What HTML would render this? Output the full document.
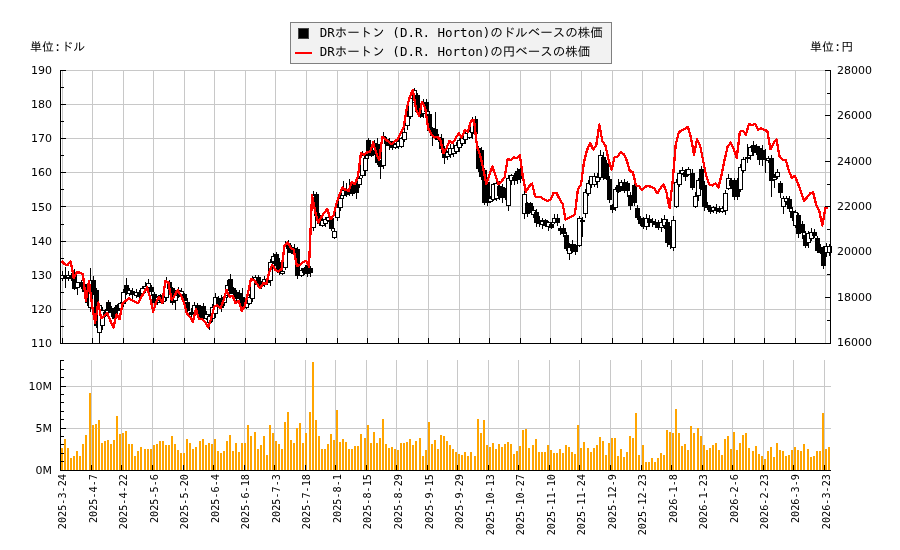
<!DOCTYPE html>
<html><head><meta charset="utf-8"><style>html,body{margin:0;padding:0;background:#fff;}svg{display:block;will-change:transform;}</style></head>
<body><svg width="900" height="550" viewBox="0 0 900 550">
<rect x="0" y="0" width="900" height="550" fill="#ffffff"/>
<path d="M62.5 70V343 M92.5 70V343 M123.5 70V343 M153.5 70V343 M184.5 70V343 M214.5 70V343 M245.5 70V343 M275.5 70V343 M306.5 70V343 M337.5 70V343 M367.5 70V343 M398.5 70V343 M428.5 70V343 M459.5 70V343 M489.5 70V343 M520.5 70V343 M550.5 70V343 M581.5 70V343 M612.5 70V343 M642.5 70V343 M673.5 70V343 M703.5 70V343 M734.5 70V343 M764.5 70V343 M795.5 70V343 M825.5 70V343 M60 343.5H830 M60 309.5H830 M60 275.5H830 M60 241.5H830 M60 206.5H830 M60 172.5H830 M60 138.5H830 M60 104.5H830 M60 70.5H830" stroke="#c8c8c8" stroke-width="1" fill="none"/>
<path d="M60.5 360V470 M91.5 360V470 M121.5 360V470 M152.5 360V470 M183.5 360V470 M213.5 360V470 M244.5 360V470 M274.5 360V470 M305.5 360V470 M335.5 360V470 M366.5 360V470 M396.5 360V470 M427.5 360V470 M457.5 360V470 M488.5 360V470 M518.5 360V470 M549.5 360V470 M579.5 360V470 M610.5 360V470 M641.5 360V470 M671.5 360V470 M702.5 360V470 M732.5 360V470 M763.5 360V470 M793.5 360V470 M824.5 360V470 M60 428.5H831 M60 386.5H831" stroke="#c8c8c8" stroke-width="1" fill="none"/>
<g shape-rendering="crispEdges" fill="#000"><rect x="62" y="271" width="1" height="10"/><rect x="60" y="275" width="5" height="4"/><rect x="61" y="276" width="3" height="2" fill="#fff"/><rect x="65" y="267" width="1" height="21"/><rect x="63" y="276" width="5" height="3"/><rect x="68" y="271" width="1" height="10"/><rect x="66" y="275" width="5" height="3"/><rect x="67" y="276" width="3" height="1" fill="#fff"/><rect x="71" y="273" width="1" height="8"/><rect x="69" y="275" width="5" height="4"/><rect x="74" y="269" width="1" height="21"/><rect x="72" y="272" width="5" height="17"/><rect x="77" y="282" width="1" height="13"/><rect x="75" y="282" width="5" height="6"/><rect x="76" y="283" width="3" height="4" fill="#fff"/><rect x="81" y="280" width="1" height="9"/><rect x="79" y="282" width="5" height="5"/><rect x="84" y="283" width="1" height="11"/><rect x="82" y="284" width="5" height="8"/><rect x="87" y="290" width="1" height="16"/><rect x="85" y="293" width="5" height="10"/><rect x="90" y="268" width="1" height="44"/><rect x="88" y="280" width="5" height="28"/><rect x="89" y="281" width="3" height="26" fill="#fff"/><rect x="93" y="276" width="1" height="19"/><rect x="91" y="280" width="5" height="13"/><rect x="96" y="288" width="1" height="40"/><rect x="94" y="290" width="5" height="36"/><rect x="99" y="303" width="1" height="40"/><rect x="97" y="305" width="5" height="28"/><rect x="98" y="306" width="3" height="26" fill="#fff"/><rect x="102" y="307" width="1" height="23"/><rect x="100" y="310" width="5" height="16"/><rect x="101" y="311" width="3" height="14" fill="#fff"/><rect x="105" y="309" width="1" height="8"/><rect x="103" y="312" width="5" height="4"/><rect x="108" y="300" width="1" height="14"/><rect x="106" y="302" width="5" height="9"/><rect x="111" y="306" width="1" height="11"/><rect x="109" y="308" width="5" height="5"/><rect x="114" y="307" width="1" height="15"/><rect x="112" y="310" width="5" height="9"/><rect x="117" y="304" width="1" height="11"/><rect x="115" y="305" width="5" height="6"/><rect x="120" y="302" width="1" height="10"/><rect x="118" y="303" width="5" height="6"/><rect x="119" y="304" width="3" height="4" fill="#fff"/><rect x="123" y="289" width="1" height="18"/><rect x="121" y="292" width="5" height="12"/><rect x="122" y="293" width="3" height="10" fill="#fff"/><rect x="126" y="278" width="1" height="17"/><rect x="124" y="285" width="5" height="8"/><rect x="129" y="288" width="1" height="8"/><rect x="127" y="290" width="5" height="4"/><rect x="128" y="291" width="3" height="2" fill="#fff"/><rect x="132" y="288" width="1" height="11"/><rect x="130" y="291" width="5" height="4"/><rect x="136" y="289" width="1" height="9"/><rect x="134" y="292" width="5" height="4"/><rect x="135" y="293" width="3" height="2" fill="#fff"/><rect x="139" y="290" width="1" height="10"/><rect x="137" y="292" width="5" height="5"/><rect x="142" y="286" width="1" height="10"/><rect x="140" y="288" width="5" height="6"/><rect x="141" y="289" width="3" height="4" fill="#fff"/><rect x="145" y="282" width="1" height="11"/><rect x="143" y="286" width="5" height="3"/><rect x="144" y="287" width="3" height="1" fill="#fff"/><rect x="148" y="279" width="1" height="13"/><rect x="146" y="283" width="5" height="5"/><rect x="147" y="284" width="3" height="3" fill="#fff"/><rect x="151" y="285" width="1" height="11"/><rect x="149" y="287" width="5" height="5"/><rect x="154" y="292" width="1" height="14"/><rect x="152" y="294" width="5" height="9"/><rect x="157" y="296" width="1" height="9"/><rect x="155" y="297" width="5" height="6"/><rect x="156" y="298" width="3" height="4" fill="#fff"/><rect x="160" y="294" width="1" height="9"/><rect x="158" y="295" width="5" height="6"/><rect x="163" y="294" width="1" height="10"/><rect x="161" y="297" width="5" height="5"/><rect x="162" y="298" width="3" height="3" fill="#fff"/><rect x="166" y="277" width="1" height="24"/><rect x="164" y="281" width="5" height="17"/><rect x="165" y="282" width="3" height="15" fill="#fff"/><rect x="169" y="280" width="1" height="12"/><rect x="167" y="282" width="5" height="7"/><rect x="172" y="287" width="1" height="18"/><rect x="170" y="288" width="5" height="15"/><rect x="175" y="290" width="1" height="20"/><rect x="173" y="292" width="5" height="9"/><rect x="174" y="293" width="3" height="7" fill="#fff"/><rect x="178" y="287" width="1" height="11"/><rect x="176" y="290" width="5" height="6"/><rect x="181" y="288" width="1" height="12"/><rect x="179" y="291" width="5" height="6"/><rect x="180" y="292" width="3" height="4" fill="#fff"/><rect x="184" y="293" width="1" height="11"/><rect x="182" y="294" width="5" height="7"/><rect x="187" y="298" width="1" height="14"/><rect x="185" y="302" width="5" height="9"/><rect x="191" y="308" width="1" height="10"/><rect x="189" y="312" width="5" height="3"/><rect x="194" y="302" width="1" height="15"/><rect x="192" y="305" width="5" height="8"/><rect x="193" y="306" width="3" height="6" fill="#fff"/><rect x="197" y="303" width="1" height="13"/><rect x="195" y="305" width="5" height="9"/><rect x="200" y="305" width="1" height="14"/><rect x="198" y="307" width="5" height="11"/><rect x="203" y="303" width="1" height="19"/><rect x="201" y="306" width="5" height="13"/><rect x="206" y="311" width="1" height="9"/><rect x="204" y="314" width="5" height="5"/><rect x="205" y="315" width="3" height="3" fill="#fff"/><rect x="209" y="314" width="1" height="16"/><rect x="207" y="316" width="5" height="7"/><rect x="208" y="317" width="3" height="5" fill="#fff"/><rect x="212" y="304" width="1" height="18"/><rect x="210" y="307" width="5" height="12"/><rect x="211" y="308" width="3" height="10" fill="#fff"/><rect x="215" y="293" width="1" height="25"/><rect x="213" y="297" width="5" height="17"/><rect x="214" y="298" width="3" height="15" fill="#fff"/><rect x="218" y="296" width="1" height="12"/><rect x="216" y="298" width="5" height="9"/><rect x="221" y="295" width="1" height="17"/><rect x="219" y="299" width="5" height="9"/><rect x="224" y="296" width="1" height="10"/><rect x="222" y="297" width="5" height="6"/><rect x="223" y="298" width="3" height="4" fill="#fff"/><rect x="227" y="280" width="1" height="18"/><rect x="225" y="285" width="5" height="11"/><rect x="226" y="286" width="3" height="9" fill="#fff"/><rect x="230" y="274" width="1" height="20"/><rect x="228" y="279" width="5" height="12"/><rect x="233" y="287" width="1" height="9"/><rect x="231" y="288" width="5" height="6"/><rect x="236" y="290" width="1" height="11"/><rect x="234" y="292" width="5" height="7"/><rect x="239" y="290" width="1" height="11"/><rect x="237" y="293" width="5" height="6"/><rect x="242" y="288" width="1" height="22"/><rect x="240" y="297" width="5" height="11"/><rect x="246" y="299" width="1" height="10"/><rect x="244" y="302" width="5" height="6"/><rect x="245" y="303" width="3" height="4" fill="#fff"/><rect x="249" y="294" width="1" height="11"/><rect x="247" y="297" width="5" height="7"/><rect x="248" y="298" width="3" height="5" fill="#fff"/><rect x="252" y="276" width="1" height="26"/><rect x="250" y="279" width="5" height="20"/><rect x="251" y="280" width="3" height="18" fill="#fff"/><rect x="255" y="275" width="1" height="10"/><rect x="253" y="277" width="5" height="4"/><rect x="254" y="278" width="3" height="2" fill="#fff"/><rect x="258" y="275" width="1" height="10"/><rect x="256" y="277" width="5" height="6"/><rect x="261" y="281" width="1" height="8"/><rect x="259" y="282" width="5" height="4"/><rect x="264" y="276" width="1" height="11"/><rect x="262" y="279" width="5" height="5"/><rect x="263" y="280" width="3" height="3" fill="#fff"/><rect x="267" y="278" width="1" height="7"/><rect x="265" y="280" width="5" height="3"/><rect x="270" y="259" width="1" height="27"/><rect x="268" y="262" width="5" height="19"/><rect x="269" y="263" width="3" height="17" fill="#fff"/><rect x="273" y="253" width="1" height="11"/><rect x="271" y="256" width="5" height="6"/><rect x="272" y="257" width="3" height="4" fill="#fff"/><rect x="276" y="252" width="1" height="19"/><rect x="274" y="254" width="5" height="12"/><rect x="279" y="258" width="1" height="17"/><rect x="277" y="262" width="5" height="11"/><rect x="282" y="269" width="1" height="6"/><rect x="280" y="271" width="5" height="3"/><rect x="281" y="272" width="3" height="1" fill="#fff"/><rect x="285" y="241" width="1" height="29"/><rect x="283" y="245" width="5" height="23"/><rect x="284" y="246" width="3" height="21" fill="#fff"/><rect x="288" y="240" width="1" height="13"/><rect x="286" y="243" width="5" height="6"/><rect x="291" y="245" width="1" height="9"/><rect x="289" y="247" width="5" height="6"/><rect x="294" y="244" width="1" height="13"/><rect x="292" y="248" width="5" height="6"/><rect x="293" y="249" width="3" height="4" fill="#fff"/><rect x="297" y="247" width="1" height="32"/><rect x="295" y="249" width="5" height="27"/><rect x="301" y="268" width="1" height="9"/><rect x="299" y="270" width="5" height="6"/><rect x="300" y="271" width="3" height="4" fill="#fff"/><rect x="304" y="267" width="1" height="8"/><rect x="302" y="268" width="5" height="5"/><rect x="307" y="261" width="1" height="16"/><rect x="305" y="265" width="5" height="9"/><rect x="310" y="266" width="1" height="11"/><rect x="308" y="268" width="5" height="5"/><rect x="313" y="191" width="1" height="40"/><rect x="311" y="195" width="5" height="33"/><rect x="312" y="196" width="3" height="31" fill="#fff"/><rect x="316" y="192" width="1" height="26"/><rect x="314" y="194" width="5" height="22"/><rect x="319" y="213" width="1" height="13"/><rect x="317" y="215" width="5" height="9"/><rect x="322" y="218" width="1" height="9"/><rect x="320" y="220" width="5" height="6"/><rect x="321" y="221" width="3" height="4" fill="#fff"/><rect x="325" y="217" width="1" height="10"/><rect x="323" y="219" width="5" height="5"/><rect x="324" y="220" width="3" height="3" fill="#fff"/><rect x="328" y="216" width="1" height="6"/><rect x="326" y="217" width="5" height="4"/><rect x="327" y="218" width="3" height="2" fill="#fff"/><rect x="331" y="216" width="1" height="15"/><rect x="329" y="218" width="5" height="11"/><rect x="334" y="228" width="1" height="11"/><rect x="332" y="231" width="5" height="7"/><rect x="333" y="232" width="3" height="5" fill="#fff"/><rect x="337" y="202" width="1" height="19"/><rect x="335" y="207" width="5" height="11"/><rect x="336" y="208" width="3" height="9" fill="#fff"/><rect x="340" y="193" width="1" height="18"/><rect x="338" y="198" width="5" height="10"/><rect x="339" y="199" width="3" height="8" fill="#fff"/><rect x="343" y="181" width="1" height="18"/><rect x="341" y="190" width="5" height="6"/><rect x="342" y="191" width="3" height="4" fill="#fff"/><rect x="346" y="183" width="1" height="14"/><rect x="344" y="190" width="5" height="5"/><rect x="349" y="179" width="1" height="17"/><rect x="347" y="192" width="5" height="2"/><rect x="352" y="182" width="1" height="14"/><rect x="350" y="185" width="5" height="9"/><rect x="356" y="180" width="1" height="19"/><rect x="354" y="183" width="5" height="10"/><rect x="359" y="176" width="1" height="12"/><rect x="357" y="178" width="5" height="7"/><rect x="358" y="179" width="3" height="5" fill="#fff"/><rect x="362" y="151" width="1" height="27"/><rect x="360" y="155" width="5" height="21"/><rect x="361" y="156" width="3" height="19" fill="#fff"/><rect x="365" y="155" width="1" height="21"/><rect x="363" y="158" width="5" height="13"/><rect x="364" y="159" width="3" height="11" fill="#fff"/><rect x="368" y="138" width="1" height="21"/><rect x="366" y="140" width="5" height="16"/><rect x="371" y="149" width="1" height="8"/><rect x="369" y="151" width="5" height="5"/><rect x="374" y="140" width="1" height="15"/><rect x="372" y="143" width="5" height="8"/><rect x="373" y="144" width="3" height="6" fill="#fff"/><rect x="377" y="138" width="1" height="27"/><rect x="375" y="144" width="5" height="19"/><rect x="380" y="160" width="1" height="19"/><rect x="378" y="163" width="5" height="4"/><rect x="383" y="132" width="1" height="37"/><rect x="381" y="136" width="5" height="30"/><rect x="382" y="137" width="3" height="28" fill="#fff"/><rect x="386" y="137" width="1" height="9"/><rect x="384" y="139" width="5" height="5"/><rect x="389" y="138" width="1" height="12"/><rect x="387" y="141" width="5" height="5"/><rect x="392" y="141" width="1" height="9"/><rect x="390" y="143" width="5" height="5"/><rect x="395" y="143" width="1" height="6"/><rect x="393" y="144" width="5" height="4"/><rect x="394" y="145" width="3" height="2" fill="#fff"/><rect x="398" y="140" width="1" height="9"/><rect x="396" y="141" width="5" height="6"/><rect x="397" y="142" width="3" height="4" fill="#fff"/><rect x="401" y="137" width="1" height="11"/><rect x="399" y="138" width="5" height="9"/><rect x="400" y="139" width="3" height="7" fill="#fff"/><rect x="404" y="128" width="1" height="14"/><rect x="402" y="132" width="5" height="8"/><rect x="403" y="133" width="3" height="6" fill="#fff"/><rect x="407" y="111" width="1" height="19"/><rect x="405" y="116" width="5" height="10"/><rect x="406" y="117" width="3" height="8" fill="#fff"/><rect x="410" y="96" width="1" height="23"/><rect x="408" y="98" width="5" height="19"/><rect x="409" y="99" width="3" height="17" fill="#fff"/><rect x="414" y="88" width="1" height="16"/><rect x="412" y="90" width="5" height="13"/><rect x="413" y="91" width="3" height="11" fill="#fff"/><rect x="417" y="93" width="1" height="21"/><rect x="415" y="95" width="5" height="17"/><rect x="420" y="107" width="1" height="11"/><rect x="418" y="108" width="5" height="9"/><rect x="423" y="99" width="1" height="19"/><rect x="421" y="102" width="5" height="12"/><rect x="422" y="103" width="3" height="10" fill="#fff"/><rect x="426" y="99" width="1" height="15"/><rect x="424" y="102" width="5" height="10"/><rect x="429" y="111" width="1" height="22"/><rect x="427" y="114" width="5" height="17"/><rect x="432" y="127" width="1" height="19"/><rect x="430" y="128" width="5" height="8"/><rect x="435" y="112" width="1" height="28"/><rect x="433" y="129" width="5" height="9"/><rect x="438" y="134" width="1" height="8"/><rect x="436" y="137" width="5" height="3"/><rect x="437" y="138" width="3" height="1" fill="#fff"/><rect x="441" y="134" width="1" height="19"/><rect x="439" y="138" width="5" height="11"/><rect x="444" y="146" width="1" height="18"/><rect x="442" y="148" width="5" height="10"/><rect x="447" y="151" width="1" height="9"/><rect x="445" y="152" width="5" height="5"/><rect x="446" y="153" width="3" height="3" fill="#fff"/><rect x="450" y="144" width="1" height="14"/><rect x="448" y="148" width="5" height="7"/><rect x="449" y="149" width="3" height="5" fill="#fff"/><rect x="453" y="144" width="1" height="13"/><rect x="451" y="148" width="5" height="6"/><rect x="452" y="149" width="3" height="4" fill="#fff"/><rect x="456" y="142" width="1" height="12"/><rect x="454" y="145" width="5" height="7"/><rect x="455" y="146" width="3" height="5" fill="#fff"/><rect x="459" y="138" width="1" height="14"/><rect x="457" y="140" width="5" height="8"/><rect x="458" y="141" width="3" height="6" fill="#fff"/><rect x="462" y="136" width="1" height="10"/><rect x="460" y="138" width="5" height="6"/><rect x="461" y="139" width="3" height="4" fill="#fff"/><rect x="465" y="132" width="1" height="12"/><rect x="463" y="133" width="5" height="7"/><rect x="464" y="134" width="3" height="5" fill="#fff"/><rect x="469" y="129" width="1" height="10"/><rect x="467" y="131" width="5" height="7"/><rect x="468" y="132" width="3" height="5" fill="#fff"/><rect x="472" y="117" width="1" height="22"/><rect x="470" y="121" width="5" height="12"/><rect x="471" y="122" width="3" height="10" fill="#fff"/><rect x="475" y="116" width="1" height="20"/><rect x="473" y="119" width="5" height="15"/><rect x="478" y="146" width="1" height="26"/><rect x="476" y="148" width="5" height="21"/><rect x="481" y="147" width="1" height="33"/><rect x="479" y="150" width="5" height="27"/><rect x="484" y="168" width="1" height="37"/><rect x="482" y="170" width="5" height="33"/><rect x="487" y="180" width="1" height="26"/><rect x="485" y="182" width="5" height="21"/><rect x="490" y="196" width="1" height="7"/><rect x="488" y="198" width="5" height="4"/><rect x="489" y="199" width="3" height="2" fill="#fff"/><rect x="493" y="183" width="1" height="18"/><rect x="491" y="184" width="5" height="16"/><rect x="492" y="185" width="3" height="14" fill="#fff"/><rect x="496" y="180" width="1" height="21"/><rect x="494" y="183" width="5" height="16"/><rect x="495" y="184" width="3" height="14" fill="#fff"/><rect x="499" y="181" width="1" height="19"/><rect x="497" y="186" width="5" height="10"/><rect x="502" y="184" width="1" height="19"/><rect x="500" y="187" width="5" height="11"/><rect x="505" y="188" width="1" height="12"/><rect x="503" y="191" width="5" height="7"/><rect x="508" y="175" width="1" height="36"/><rect x="506" y="178" width="5" height="28"/><rect x="507" y="179" width="3" height="26" fill="#fff"/><rect x="511" y="174" width="1" height="11"/><rect x="509" y="175" width="5" height="6"/><rect x="510" y="176" width="3" height="4" fill="#fff"/><rect x="514" y="173" width="1" height="12"/><rect x="512" y="177" width="5" height="4"/><rect x="517" y="168" width="1" height="16"/><rect x="515" y="171" width="5" height="9"/><rect x="520" y="167" width="1" height="16"/><rect x="518" y="169" width="5" height="10"/><rect x="524" y="189" width="1" height="30"/><rect x="522" y="194" width="5" height="20"/><rect x="523" y="195" width="3" height="18" fill="#fff"/><rect x="527" y="202" width="1" height="15"/><rect x="525" y="203" width="5" height="11"/><rect x="530" y="202" width="1" height="11"/><rect x="528" y="203" width="5" height="8"/><rect x="533" y="206" width="1" height="12"/><rect x="531" y="210" width="5" height="5"/><rect x="532" y="211" width="3" height="3" fill="#fff"/><rect x="536" y="209" width="1" height="18"/><rect x="534" y="212" width="5" height="11"/><rect x="539" y="216" width="1" height="11"/><rect x="537" y="220" width="5" height="4"/><rect x="542" y="218" width="1" height="11"/><rect x="540" y="221" width="5" height="4"/><rect x="541" y="222" width="3" height="2" fill="#fff"/><rect x="545" y="219" width="1" height="8"/><rect x="543" y="220" width="5" height="6"/><rect x="548" y="221" width="1" height="10"/><rect x="546" y="222" width="5" height="5"/><rect x="547" y="223" width="3" height="3" fill="#fff"/><rect x="551" y="222" width="1" height="7"/><rect x="549" y="224" width="5" height="4"/><rect x="554" y="214" width="1" height="10"/><rect x="552" y="218" width="5" height="5"/><rect x="553" y="219" width="3" height="3" fill="#fff"/><rect x="557" y="214" width="1" height="12"/><rect x="555" y="218" width="5" height="5"/><rect x="560" y="226" width="1" height="9"/><rect x="558" y="228" width="5" height="3"/><rect x="563" y="224" width="1" height="13"/><rect x="561" y="228" width="5" height="6"/><rect x="566" y="232" width="1" height="19"/><rect x="564" y="235" width="5" height="14"/><rect x="569" y="243" width="1" height="17"/><rect x="567" y="247" width="5" height="7"/><rect x="568" y="248" width="3" height="5" fill="#fff"/><rect x="572" y="240" width="1" height="13"/><rect x="570" y="244" width="5" height="7"/><rect x="575" y="244" width="1" height="11"/><rect x="573" y="245" width="5" height="7"/><rect x="579" y="216" width="1" height="31"/><rect x="577" y="218" width="5" height="28"/><rect x="578" y="219" width="3" height="26" fill="#fff"/><rect x="582" y="217" width="1" height="20"/><rect x="580" y="220" width="5" height="2"/><rect x="585" y="189" width="1" height="29"/><rect x="583" y="192" width="5" height="22"/><rect x="584" y="193" width="3" height="20" fill="#fff"/><rect x="588" y="180" width="1" height="16"/><rect x="586" y="183" width="5" height="11"/><rect x="587" y="184" width="3" height="9" fill="#fff"/><rect x="591" y="176" width="1" height="12"/><rect x="589" y="176" width="5" height="9"/><rect x="590" y="177" width="3" height="7" fill="#fff"/><rect x="594" y="173" width="1" height="14"/><rect x="592" y="176" width="5" height="9"/><rect x="593" y="177" width="3" height="7" fill="#fff"/><rect x="597" y="173" width="1" height="15"/><rect x="595" y="177" width="5" height="5"/><rect x="596" y="178" width="3" height="3" fill="#fff"/><rect x="600" y="150" width="1" height="30"/><rect x="598" y="155" width="5" height="23"/><rect x="599" y="156" width="3" height="21" fill="#fff"/><rect x="603" y="152" width="1" height="28"/><rect x="601" y="157" width="5" height="21"/><rect x="606" y="160" width="1" height="20"/><rect x="604" y="163" width="5" height="16"/><rect x="609" y="176" width="1" height="27"/><rect x="607" y="179" width="5" height="21"/><rect x="612" y="204" width="1" height="9"/><rect x="610" y="205" width="5" height="5"/><rect x="615" y="187" width="1" height="24"/><rect x="613" y="189" width="5" height="19"/><rect x="614" y="190" width="3" height="17" fill="#fff"/><rect x="618" y="179" width="1" height="14"/><rect x="616" y="185" width="5" height="7"/><rect x="621" y="180" width="1" height="11"/><rect x="619" y="182" width="5" height="5"/><rect x="620" y="183" width="3" height="3" fill="#fff"/><rect x="624" y="179" width="1" height="14"/><rect x="622" y="182" width="5" height="9"/><rect x="627" y="181" width="1" height="16"/><rect x="625" y="183" width="5" height="8"/><rect x="630" y="192" width="1" height="18"/><rect x="628" y="195" width="5" height="11"/><rect x="634" y="184" width="1" height="22"/><rect x="632" y="185" width="5" height="18"/><rect x="637" y="205" width="1" height="15"/><rect x="635" y="208" width="5" height="10"/><rect x="640" y="216" width="1" height="10"/><rect x="638" y="218" width="5" height="6"/><rect x="643" y="217" width="1" height="12"/><rect x="641" y="219" width="5" height="8"/><rect x="646" y="214" width="1" height="16"/><rect x="644" y="218" width="5" height="9"/><rect x="645" y="219" width="3" height="7" fill="#fff"/><rect x="649" y="215" width="1" height="12"/><rect x="647" y="219" width="5" height="4"/><rect x="652" y="218" width="1" height="9"/><rect x="650" y="221" width="5" height="2"/><rect x="655" y="219" width="1" height="9"/><rect x="653" y="222" width="5" height="3"/><rect x="658" y="220" width="1" height="10"/><rect x="656" y="222" width="5" height="6"/><rect x="661" y="218" width="1" height="14"/><rect x="659" y="222" width="5" height="6"/><rect x="660" y="223" width="3" height="4" fill="#fff"/><rect x="664" y="215" width="1" height="14"/><rect x="662" y="219" width="5" height="7"/><rect x="663" y="220" width="3" height="5" fill="#fff"/><rect x="667" y="219" width="1" height="28"/><rect x="665" y="222" width="5" height="21"/><rect x="670" y="226" width="1" height="23"/><rect x="668" y="228" width="5" height="17"/><rect x="673" y="216" width="1" height="35"/><rect x="671" y="220" width="5" height="28"/><rect x="672" y="221" width="3" height="26" fill="#fff"/><rect x="676" y="179" width="1" height="29"/><rect x="674" y="182" width="5" height="25"/><rect x="675" y="183" width="3" height="23" fill="#fff"/><rect x="679" y="170" width="1" height="17"/><rect x="677" y="173" width="5" height="12"/><rect x="678" y="174" width="3" height="10" fill="#fff"/><rect x="682" y="167" width="1" height="8"/><rect x="680" y="170" width="5" height="4"/><rect x="681" y="171" width="3" height="2" fill="#fff"/><rect x="685" y="169" width="1" height="12"/><rect x="683" y="172" width="5" height="5"/><rect x="688" y="167" width="1" height="9"/><rect x="686" y="169" width="5" height="6"/><rect x="687" y="170" width="3" height="4" fill="#fff"/><rect x="692" y="169" width="1" height="21"/><rect x="690" y="173" width="5" height="15"/><rect x="695" y="192" width="1" height="16"/><rect x="693" y="196" width="5" height="11"/><rect x="694" y="197" width="3" height="9" fill="#fff"/><rect x="698" y="178" width="1" height="23"/><rect x="696" y="180" width="5" height="16"/><rect x="697" y="181" width="3" height="14" fill="#fff"/><rect x="701" y="166" width="1" height="24"/><rect x="699" y="169" width="5" height="20"/><rect x="704" y="181" width="1" height="30"/><rect x="702" y="185" width="5" height="22"/><rect x="707" y="202" width="1" height="8"/><rect x="705" y="205" width="5" height="3"/><rect x="710" y="205" width="1" height="9"/><rect x="708" y="208" width="5" height="4"/><rect x="713" y="206" width="1" height="7"/><rect x="711" y="207" width="5" height="4"/><rect x="712" y="208" width="3" height="2" fill="#fff"/><rect x="716" y="204" width="1" height="10"/><rect x="714" y="208" width="5" height="2"/><rect x="719" y="206" width="1" height="7"/><rect x="717" y="208" width="5" height="4"/><rect x="722" y="206" width="1" height="7"/><rect x="720" y="208" width="5" height="4"/><rect x="721" y="209" width="3" height="2" fill="#fff"/><rect x="725" y="190" width="1" height="25"/><rect x="723" y="193" width="5" height="18"/><rect x="724" y="194" width="3" height="16" fill="#fff"/><rect x="728" y="174" width="1" height="16"/><rect x="726" y="178" width="5" height="11"/><rect x="727" y="179" width="3" height="9" fill="#fff"/><rect x="731" y="178" width="1" height="11"/><rect x="729" y="180" width="5" height="6"/><rect x="734" y="178" width="1" height="22"/><rect x="732" y="180" width="5" height="17"/><rect x="737" y="178" width="1" height="22"/><rect x="735" y="182" width="5" height="15"/><rect x="740" y="164" width="1" height="28"/><rect x="738" y="167" width="5" height="23"/><rect x="739" y="168" width="3" height="21" fill="#fff"/><rect x="743" y="157" width="1" height="16"/><rect x="741" y="159" width="5" height="12"/><rect x="742" y="160" width="3" height="10" fill="#fff"/><rect x="747" y="144" width="1" height="19"/><rect x="745" y="157" width="5" height="2"/><rect x="750" y="146" width="1" height="14"/><rect x="748" y="147" width="5" height="9"/><rect x="749" y="148" width="3" height="7" fill="#fff"/><rect x="753" y="141" width="1" height="15"/><rect x="751" y="145" width="5" height="7"/><rect x="756" y="144" width="1" height="11"/><rect x="754" y="146" width="5" height="7"/><rect x="759" y="146" width="1" height="19"/><rect x="757" y="148" width="5" height="12"/><rect x="762" y="145" width="1" height="21"/><rect x="760" y="150" width="5" height="9"/><rect x="765" y="149" width="1" height="24"/><rect x="763" y="158" width="5" height="2"/><rect x="768" y="156" width="1" height="7"/><rect x="766" y="158" width="5" height="3"/><rect x="767" y="159" width="3" height="1" fill="#fff"/><rect x="771" y="155" width="1" height="42"/><rect x="769" y="158" width="5" height="23"/><rect x="774" y="174" width="1" height="14"/><rect x="772" y="177" width="5" height="3"/><rect x="773" y="178" width="3" height="1" fill="#fff"/><rect x="777" y="169" width="1" height="10"/><rect x="775" y="172" width="5" height="5"/><rect x="776" y="173" width="3" height="3" fill="#fff"/><rect x="780" y="181" width="1" height="17"/><rect x="778" y="183" width="5" height="10"/><rect x="783" y="196" width="1" height="18"/><rect x="781" y="198" width="5" height="9"/><rect x="782" y="199" width="3" height="7" fill="#fff"/><rect x="786" y="196" width="1" height="9"/><rect x="784" y="198" width="5" height="4"/><rect x="785" y="199" width="3" height="2" fill="#fff"/><rect x="789" y="196" width="1" height="16"/><rect x="787" y="199" width="5" height="10"/><rect x="792" y="207" width="1" height="14"/><rect x="790" y="211" width="5" height="7"/><rect x="795" y="210" width="1" height="18"/><rect x="793" y="212" width="5" height="14"/><rect x="794" y="213" width="3" height="12" fill="#fff"/><rect x="798" y="213" width="1" height="25"/><rect x="796" y="215" width="5" height="19"/><rect x="802" y="221" width="1" height="18"/><rect x="800" y="224" width="5" height="9"/><rect x="805" y="231" width="1" height="17"/><rect x="803" y="235" width="5" height="11"/><rect x="808" y="231" width="1" height="17"/><rect x="806" y="233" width="5" height="10"/><rect x="807" y="234" width="3" height="8" fill="#fff"/><rect x="811" y="228" width="1" height="13"/><rect x="809" y="232" width="5" height="7"/><rect x="810" y="233" width="3" height="5" fill="#fff"/><rect x="814" y="229" width="1" height="9"/><rect x="812" y="232" width="5" height="4"/><rect x="817" y="236" width="1" height="17"/><rect x="815" y="238" width="5" height="13"/><rect x="820" y="244" width="1" height="10"/><rect x="818" y="247" width="5" height="6"/><rect x="823" y="246" width="1" height="23"/><rect x="821" y="248" width="5" height="18"/><rect x="826" y="243" width="1" height="14"/><rect x="824" y="246" width="5" height="7"/><rect x="825" y="247" width="3" height="5" fill="#fff"/><rect x="829" y="244" width="1" height="12"/><rect x="827" y="246" width="5" height="7"/><rect x="828" y="247" width="3" height="5" fill="#fff"/></g>
<polyline points="61.50,260.8 64.56,264.2 67.61,265.0 70.67,261.3 73.72,278.0 76.78,272.5 79.83,272.5 82.89,274.0 85.94,301.0 89.00,280.8 92.06,305.0 95.11,323.0 98.17,302.5 101.22,318.3 104.28,315.8 107.33,313.3 110.39,320.8 113.45,327.5 116.50,314.2 119.56,319.2 122.61,303.3 125.67,300.8 128.72,298.3 131.78,300.0 134.83,301.7 137.89,303.3 140.95,297.5 144.00,292.5 147.06,287.5 150.11,297.5 153.17,311.7 156.22,301.7 159.28,296.7 162.33,303.3 165.39,280.8 168.45,282.5 171.50,300.0 174.56,295.8 177.61,290.0 180.67,295.0 183.72,301.7 186.78,313.3 189.84,316.7 192.89,321.7 195.95,309.2 199.00,319.2 202.06,319.2 205.11,321.7 208.17,327.5 211.22,318.3 214.28,306.7 217.34,305.0 220.39,308.3 223.45,300.8 226.50,290.0 229.56,296.7 232.61,295.8 235.67,303.3 238.72,300.8 241.78,310.8 244.84,305.8 247.89,293.3 250.95,279.2 254.00,280.0 257.06,284.2 260.11,288.3 263.17,283.3 266.23,284.2 269.28,271.7 272.34,265.0 275.39,270.0 278.45,271.7 281.50,269.2 284.56,245.0 287.61,242.5 290.67,247.5 293.73,250.0 296.78,265.8 299.84,265.0 302.89,262.5 305.95,260.8 309.00,266.7 312.06,195.0 315.11,211.7 318.17,222.5 321.23,217.5 324.28,212.5 327.34,209.2 330.39,219.2 333.45,215.8 336.50,203.3 339.56,194.2 342.62,187.5 345.67,190.0 348.73,190.8 351.78,181.7 354.84,184.2 357.89,176.7 360.95,153.3 364.00,155.0 367.06,152.5 370.12,151.7 373.17,142.5 376.23,153.3 379.28,160.0 382.34,136.7 385.39,139.2 388.45,141.7 391.50,144.2 394.56,141.7 397.62,139.2 400.67,133.3 403.73,126.7 406.78,108.3 409.84,96.7 412.89,90.0 415.95,109.2 419.01,115.8 422.06,101.7 425.12,107.5 428.17,128.3 431.23,134.2 434.28,137.5 437.34,136.7 440.39,140.0 443.45,153.3 446.51,148.3 449.56,140.8 452.62,143.3 455.67,138.3 458.73,133.3 461.78,137.5 464.84,130.0 467.89,131.7 470.95,120.8 474.01,120.0 477.06,146.7 480.12,155.0 483.17,168.3 486.23,184.0 489.28,175.3 492.34,166.5 495.40,175.3 498.45,184.0 501.51,181.3 504.56,177.5 507.62,159.1 510.67,160.0 513.73,157.3 516.78,158.2 519.84,155.0 522.90,177.3 525.95,191.8 529.01,186.4 532.06,183.6 535.12,196.4 538.17,197.3 541.23,197.3 544.28,199.5 547.34,201.0 550.40,200.0 553.45,193.0 556.51,193.0 559.56,199.0 562.62,204.0 565.67,219.6 568.73,218.0 571.79,216.2 574.84,214.6 577.90,189.0 580.95,185.0 584.01,162.0 587.06,150.0 590.12,143.0 593.17,149.5 596.23,145.5 599.29,124.5 602.34,140.9 605.40,145.5 608.45,159.0 611.51,170.0 614.56,157.0 617.62,156.5 620.67,152.0 623.73,154.3 626.79,160.5 629.84,171.2 632.90,172.0 635.95,185.4 639.01,186.2 642.06,190.4 645.12,186.7 648.18,186.2 651.23,186.7 654.29,188.3 657.34,193.3 660.40,188.3 663.45,184.2 666.51,192.5 669.56,208.0 672.62,181.7 675.68,145.0 678.73,132.5 681.79,130.0 684.84,129.2 687.90,126.7 690.95,137.5 694.01,155.0 697.06,139.2 700.12,145.4 703.18,161.0 706.23,176.0 709.29,184.5 712.34,185.5 715.40,183.3 718.45,187.5 721.51,175.0 724.57,160.0 727.62,146.7 730.68,142.5 733.73,149.0 736.79,158.0 739.84,131.7 742.90,130.8 745.95,134.6 749.01,124.0 752.07,125.1 755.12,124.0 758.18,129.8 761.23,128.3 764.29,130.0 767.34,130.8 770.40,149.2 773.45,143.3 776.51,139.2 779.57,156.7 782.62,160.0 785.68,160.0 788.73,170.0 791.79,178.3 794.84,175.8 797.90,183.3 800.96,191.7 804.01,200.5 807.07,197.5 810.12,193.3 813.18,192.5 816.23,205.0 819.29,210.8 822.34,225.5 825.40,207.5 828.46,207.5" fill="none" stroke="#ff0000" stroke-width="2.3" stroke-linejoin="round" stroke-linecap="butt" shape-rendering="crispEdges"/>
<g fill="#ffa500" shape-rendering="crispEdges"><rect x="61" y="448" width="2" height="22"/><rect x="64" y="439" width="2" height="31"/><rect x="67" y="448" width="2" height="22"/><rect x="70" y="458" width="2" height="12"/><rect x="73" y="456" width="2" height="14"/><rect x="76" y="451" width="2" height="19"/><rect x="79" y="456" width="2" height="14"/><rect x="82" y="444" width="2" height="26"/><rect x="85" y="435" width="2" height="35"/><rect x="89" y="393" width="2" height="77"/><rect x="92" y="425" width="2" height="45"/><rect x="95" y="424" width="2" height="46"/><rect x="98" y="420" width="2" height="50"/><rect x="101" y="443" width="2" height="27"/><rect x="104" y="441" width="2" height="29"/><rect x="107" y="440" width="2" height="30"/><rect x="110" y="444" width="2" height="26"/><rect x="113" y="440" width="2" height="30"/><rect x="116" y="416" width="2" height="54"/><rect x="119" y="434" width="2" height="36"/><rect x="122" y="433" width="2" height="37"/><rect x="125" y="431" width="2" height="39"/><rect x="128" y="444" width="2" height="26"/><rect x="131" y="444" width="2" height="26"/><rect x="134" y="456" width="2" height="14"/><rect x="137" y="451" width="2" height="19"/><rect x="140" y="447" width="2" height="23"/><rect x="144" y="449" width="2" height="21"/><rect x="147" y="449" width="2" height="21"/><rect x="150" y="449" width="2" height="21"/><rect x="153" y="445" width="2" height="25"/><rect x="156" y="444" width="2" height="26"/><rect x="159" y="441" width="2" height="29"/><rect x="162" y="441" width="2" height="29"/><rect x="165" y="445" width="2" height="25"/><rect x="168" y="445" width="2" height="25"/><rect x="171" y="436" width="2" height="34"/><rect x="174" y="444" width="2" height="26"/><rect x="177" y="450" width="2" height="20"/><rect x="180" y="453" width="2" height="17"/><rect x="183" y="453" width="2" height="17"/><rect x="186" y="439" width="2" height="31"/><rect x="189" y="443" width="2" height="27"/><rect x="192" y="449" width="2" height="21"/><rect x="195" y="447" width="2" height="23"/><rect x="199" y="441" width="2" height="29"/><rect x="202" y="439" width="2" height="31"/><rect x="205" y="445" width="2" height="25"/><rect x="208" y="443" width="2" height="27"/><rect x="211" y="444" width="2" height="26"/><rect x="214" y="439" width="2" height="31"/><rect x="217" y="451" width="2" height="19"/><rect x="220" y="453" width="2" height="17"/><rect x="223" y="451" width="2" height="19"/><rect x="226" y="441" width="2" height="29"/><rect x="229" y="435" width="2" height="35"/><rect x="232" y="451" width="2" height="19"/><rect x="235" y="443" width="2" height="27"/><rect x="238" y="452" width="2" height="18"/><rect x="241" y="443" width="2" height="27"/><rect x="244" y="443" width="2" height="27"/><rect x="247" y="425" width="2" height="45"/><rect x="250" y="436" width="2" height="34"/><rect x="254" y="432" width="2" height="38"/><rect x="257" y="449" width="2" height="21"/><rect x="260" y="445" width="2" height="25"/><rect x="263" y="436" width="2" height="34"/><rect x="266" y="455" width="2" height="15"/><rect x="269" y="425" width="2" height="45"/><rect x="272" y="433" width="2" height="37"/><rect x="275" y="441" width="2" height="29"/><rect x="278" y="444" width="2" height="26"/><rect x="281" y="449" width="2" height="21"/><rect x="284" y="422" width="2" height="48"/><rect x="287" y="412" width="2" height="58"/><rect x="290" y="440" width="2" height="30"/><rect x="293" y="443" width="2" height="27"/><rect x="296" y="428" width="2" height="42"/><rect x="299" y="423" width="2" height="47"/><rect x="302" y="443" width="2" height="27"/><rect x="305" y="433" width="2" height="37"/><rect x="309" y="412" width="2" height="58"/><rect x="312" y="362" width="2" height="108"/><rect x="315" y="420" width="2" height="50"/><rect x="318" y="436" width="2" height="34"/><rect x="321" y="449" width="2" height="21"/><rect x="324" y="449" width="2" height="21"/><rect x="327" y="444" width="2" height="26"/><rect x="330" y="434" width="2" height="36"/><rect x="333" y="440" width="2" height="30"/><rect x="336" y="410" width="2" height="60"/><rect x="339" y="442" width="2" height="28"/><rect x="342" y="439" width="2" height="31"/><rect x="345" y="442" width="2" height="28"/><rect x="348" y="449" width="2" height="21"/><rect x="351" y="449" width="2" height="21"/><rect x="354" y="446" width="2" height="24"/><rect x="357" y="446" width="2" height="24"/><rect x="360" y="434" width="2" height="36"/><rect x="364" y="438" width="2" height="32"/><rect x="367" y="425" width="2" height="45"/><rect x="370" y="443" width="2" height="27"/><rect x="373" y="432" width="2" height="38"/><rect x="376" y="443" width="2" height="27"/><rect x="379" y="438" width="2" height="32"/><rect x="382" y="419" width="2" height="51"/><rect x="385" y="444" width="2" height="26"/><rect x="388" y="448" width="2" height="22"/><rect x="391" y="447" width="2" height="23"/><rect x="394" y="449" width="2" height="21"/><rect x="397" y="450" width="2" height="20"/><rect x="400" y="443" width="2" height="27"/><rect x="403" y="443" width="2" height="27"/><rect x="406" y="442" width="2" height="28"/><rect x="409" y="439" width="2" height="31"/><rect x="412" y="445" width="2" height="25"/><rect x="415" y="441" width="2" height="29"/><rect x="419" y="438" width="2" height="32"/><rect x="422" y="456" width="2" height="14"/><rect x="425" y="450" width="2" height="20"/><rect x="428" y="422" width="2" height="48"/><rect x="431" y="444" width="2" height="26"/><rect x="434" y="440" width="2" height="30"/><rect x="437" y="449" width="2" height="21"/><rect x="440" y="435" width="2" height="35"/><rect x="443" y="436" width="2" height="34"/><rect x="446" y="441" width="2" height="29"/><rect x="449" y="445" width="2" height="25"/><rect x="452" y="449" width="2" height="21"/><rect x="455" y="452" width="2" height="18"/><rect x="458" y="454" width="2" height="16"/><rect x="461" y="455" width="2" height="15"/><rect x="464" y="452" width="2" height="18"/><rect x="467" y="456" width="2" height="14"/><rect x="470" y="452" width="2" height="18"/><rect x="474" y="456" width="2" height="14"/><rect x="477" y="419" width="2" height="51"/><rect x="480" y="433" width="2" height="37"/><rect x="483" y="420" width="2" height="50"/><rect x="486" y="445" width="2" height="25"/><rect x="489" y="447" width="2" height="23"/><rect x="492" y="443" width="2" height="27"/><rect x="495" y="449" width="2" height="21"/><rect x="498" y="444" width="2" height="26"/><rect x="501" y="447" width="2" height="23"/><rect x="504" y="444" width="2" height="26"/><rect x="507" y="442" width="2" height="28"/><rect x="510" y="444" width="2" height="26"/><rect x="513" y="454" width="2" height="16"/><rect x="516" y="451" width="2" height="19"/><rect x="519" y="446" width="2" height="24"/><rect x="522" y="430" width="2" height="40"/><rect x="525" y="429" width="2" height="41"/><rect x="528" y="448" width="2" height="22"/><rect x="532" y="445" width="2" height="25"/><rect x="535" y="439" width="2" height="31"/><rect x="538" y="452" width="2" height="18"/><rect x="541" y="452" width="2" height="18"/><rect x="544" y="452" width="2" height="18"/><rect x="547" y="445" width="2" height="25"/><rect x="550" y="450" width="2" height="20"/><rect x="553" y="453" width="2" height="17"/><rect x="556" y="453" width="2" height="17"/><rect x="559" y="449" width="2" height="21"/><rect x="562" y="453" width="2" height="17"/><rect x="565" y="445" width="2" height="25"/><rect x="568" y="447" width="2" height="23"/><rect x="571" y="452" width="2" height="18"/><rect x="574" y="454" width="2" height="16"/><rect x="577" y="425" width="2" height="45"/><rect x="580" y="448" width="2" height="22"/><rect x="583" y="442" width="2" height="28"/><rect x="587" y="448" width="2" height="22"/><rect x="590" y="452" width="2" height="18"/><rect x="593" y="448" width="2" height="22"/><rect x="596" y="445" width="2" height="25"/><rect x="599" y="437" width="2" height="33"/><rect x="602" y="441" width="2" height="29"/><rect x="605" y="455" width="2" height="15"/><rect x="608" y="443" width="2" height="27"/><rect x="611" y="438" width="2" height="32"/><rect x="614" y="438" width="2" height="32"/><rect x="617" y="456" width="2" height="14"/><rect x="620" y="449" width="2" height="21"/><rect x="623" y="457" width="2" height="13"/><rect x="626" y="452" width="2" height="18"/><rect x="629" y="436" width="2" height="34"/><rect x="632" y="438" width="2" height="32"/><rect x="635" y="413" width="2" height="57"/><rect x="638" y="455" width="2" height="15"/><rect x="642" y="445" width="2" height="25"/><rect x="645" y="462" width="2" height="8"/><rect x="648" y="462" width="2" height="8"/><rect x="651" y="458" width="2" height="12"/><rect x="654" y="462" width="2" height="8"/><rect x="657" y="458" width="2" height="12"/><rect x="660" y="453" width="2" height="17"/><rect x="663" y="455" width="2" height="15"/><rect x="666" y="430" width="2" height="40"/><rect x="669" y="432" width="2" height="38"/><rect x="672" y="433" width="2" height="37"/><rect x="675" y="409" width="2" height="61"/><rect x="678" y="433" width="2" height="37"/><rect x="681" y="446" width="2" height="24"/><rect x="684" y="444" width="2" height="26"/><rect x="687" y="450" width="2" height="20"/><rect x="690" y="426" width="2" height="44"/><rect x="693" y="433" width="2" height="37"/><rect x="697" y="428" width="2" height="42"/><rect x="700" y="436" width="2" height="34"/><rect x="703" y="445" width="2" height="25"/><rect x="706" y="450" width="2" height="20"/><rect x="709" y="448" width="2" height="22"/><rect x="712" y="445" width="2" height="25"/><rect x="715" y="443" width="2" height="27"/><rect x="718" y="450" width="2" height="20"/><rect x="721" y="455" width="2" height="15"/><rect x="724" y="439" width="2" height="31"/><rect x="727" y="436" width="2" height="34"/><rect x="730" y="449" width="2" height="21"/><rect x="733" y="432" width="2" height="38"/><rect x="736" y="450" width="2" height="20"/><rect x="739" y="443" width="2" height="27"/><rect x="742" y="435" width="2" height="35"/><rect x="745" y="433" width="2" height="37"/><rect x="748" y="448" width="2" height="22"/><rect x="752" y="451" width="2" height="19"/><rect x="755" y="446" width="2" height="24"/><rect x="758" y="454" width="2" height="16"/><rect x="761" y="456" width="2" height="14"/><rect x="764" y="459" width="2" height="11"/><rect x="767" y="451" width="2" height="19"/><rect x="770" y="447" width="2" height="23"/><rect x="773" y="457" width="2" height="13"/><rect x="776" y="443" width="2" height="27"/><rect x="779" y="450" width="2" height="20"/><rect x="782" y="451" width="2" height="19"/><rect x="785" y="456" width="2" height="14"/><rect x="788" y="455" width="2" height="15"/><rect x="791" y="450" width="2" height="20"/><rect x="794" y="447" width="2" height="23"/><rect x="797" y="450" width="2" height="20"/><rect x="800" y="451" width="2" height="19"/><rect x="803" y="444" width="2" height="26"/><rect x="807" y="449" width="2" height="21"/><rect x="810" y="457" width="2" height="13"/><rect x="813" y="456" width="2" height="14"/><rect x="816" y="451" width="2" height="19"/><rect x="819" y="451" width="2" height="19"/><rect x="822" y="413" width="2" height="57"/><rect x="825" y="449" width="2" height="21"/><rect x="828" y="447" width="2" height="23"/></g>
<path d="M60.5 70V343.5 M830.5 70V343.5 M60 343.5H831 M60 343.5H66 M60 309.5H66 M60 275.5H66 M60 241.5H66 M60 206.5H66 M60 172.5H66 M60 138.5H66 M60 104.5H66 M60 70.5H66 M60 326.5H64 M60 292.5H64 M60 258.5H64 M60 224.5H64 M60 189.5H64 M60 155.5H64 M60 121.5H64 M60 87.5H64 M825 343.5H831 M825 297.5H831 M825 252.5H831 M825 206.5H831 M825 161.5H831 M825 115.5H831 M825 70.5H831 M827 320.5H831 M827 274.5H831 M827 229.5H831 M827 184.5H831 M827 138.5H831 M827 93.5H831 M62.5 338V343 M92.5 338V343 M123.5 338V343 M153.5 338V343 M184.5 338V343 M214.5 338V343 M245.5 338V343 M275.5 338V343 M306.5 338V343 M337.5 338V343 M367.5 338V343 M398.5 338V343 M428.5 338V343 M459.5 338V343 M489.5 338V343 M520.5 338V343 M550.5 338V343 M581.5 338V343 M612.5 338V343 M642.5 338V343 M673.5 338V343 M703.5 338V343 M734.5 338V343 M764.5 338V343 M795.5 338V343 M60.5 360V470.5 M60 470.5H831 M60 470.5H66 M60 461.5H64 M60 453.5H64 M60 444.5H64 M60 436.5H64 M60 428.5H66 M60 419.5H64 M60 411.5H64 M60 402.5H64 M60 394.5H64 M60 386.5H66 M60 377.5H64 M60 369.5H64 M60 360.5H64 M60.5 465V470 M91.5 465V470 M121.5 465V470 M152.5 465V470 M183.5 465V470 M213.5 465V470 M244.5 465V470 M274.5 465V470 M305.5 465V470 M335.5 465V470 M366.5 465V470 M396.5 465V470 M427.5 465V470 M457.5 465V470 M488.5 465V470 M518.5 465V470 M549.5 465V470 M579.5 465V470 M610.5 465V470 M641.5 465V470 M671.5 465V470 M702.5 465V470 M732.5 465V470 M763.5 465V470 M793.5 465V470 M824.5 465V470" stroke="#000" stroke-width="1" fill="none" shape-rendering="crispEdges"/>
<g font-family="DejaVu Sans, IPAGothic, sans-serif" font-size="11" fill="#000"><text x="52" y="347.3" text-anchor="end">110</text><text x="52" y="313.1" text-anchor="end">120</text><text x="52" y="278.9" text-anchor="end">130</text><text x="52" y="244.7" text-anchor="end">140</text><text x="52" y="210.5" text-anchor="end">150</text><text x="52" y="176.3" text-anchor="end">160</text><text x="52" y="142.1" text-anchor="end">170</text><text x="52" y="107.9" text-anchor="end">180</text><text x="52" y="73.7" text-anchor="end">190</text><text x="837" y="346.3">16000</text><text x="837" y="300.8">18000</text><text x="837" y="255.4">20000</text><text x="837" y="210.0">22000</text><text x="837" y="164.5">24000</text><text x="837" y="119.1">26000</text><text x="837" y="73.6">28000</text><text x="52" y="473.6" text-anchor="end">0M</text><text x="52" y="431.6" text-anchor="end">5M</text><text x="52" y="389.6" text-anchor="end">10M</text><text x="30" y="51" font-family="DejaVu Sans Mono, IPAGothic, sans-serif" font-size="12">単位:ドル</text><text x="810" y="51" font-family="DejaVu Sans Mono, IPAGothic, sans-serif" font-size="12">単位:円</text></g>
<g font-family="DejaVu Sans Mono, monospace" font-size="10.2" fill="#000"><text transform="translate(66.1,474) rotate(-90)" text-anchor="end">2025-3-24</text><text transform="translate(96.6,474) rotate(-90)" text-anchor="end">2025-4-7</text><text transform="translate(127.2,474) rotate(-90)" text-anchor="end">2025-4-22</text><text transform="translate(157.7,474) rotate(-90)" text-anchor="end">2025-5-6</text><text transform="translate(188.2,474) rotate(-90)" text-anchor="end">2025-5-20</text><text transform="translate(218.8,474) rotate(-90)" text-anchor="end">2025-6-4</text><text transform="translate(249.3,474) rotate(-90)" text-anchor="end">2025-6-18</text><text transform="translate(279.8,474) rotate(-90)" text-anchor="end">2025-7-3</text><text transform="translate(310.4,474) rotate(-90)" text-anchor="end">2025-7-18</text><text transform="translate(340.9,474) rotate(-90)" text-anchor="end">2025-8-1</text><text transform="translate(371.4,474) rotate(-90)" text-anchor="end">2025-8-15</text><text transform="translate(402.0,474) rotate(-90)" text-anchor="end">2025-8-29</text><text transform="translate(432.5,474) rotate(-90)" text-anchor="end">2025-9-15</text><text transform="translate(463.1,474) rotate(-90)" text-anchor="end">2025-9-29</text><text transform="translate(493.6,474) rotate(-90)" text-anchor="end">2025-10-13</text><text transform="translate(524.1,474) rotate(-90)" text-anchor="end">2025-10-27</text><text transform="translate(554.7,474) rotate(-90)" text-anchor="end">2025-11-10</text><text transform="translate(585.2,474) rotate(-90)" text-anchor="end">2025-11-24</text><text transform="translate(615.7,474) rotate(-90)" text-anchor="end">2025-12-9</text><text transform="translate(646.3,474) rotate(-90)" text-anchor="end">2025-12-23</text><text transform="translate(676.8,474) rotate(-90)" text-anchor="end">2026-1-8</text><text transform="translate(707.3,474) rotate(-90)" text-anchor="end">2026-1-23</text><text transform="translate(737.9,474) rotate(-90)" text-anchor="end">2026-2-6</text><text transform="translate(768.4,474) rotate(-90)" text-anchor="end">2026-2-23</text><text transform="translate(798.9,474) rotate(-90)" text-anchor="end">2026-3-9</text><text transform="translate(829.5,474) rotate(-90)" text-anchor="end">2026-3-23</text></g>
<rect x="290.5" y="22.5" width="321" height="41" fill="#f2f2f2" stroke="#808080" stroke-width="1"/>
<rect x="298.5" y="28.5" width="10" height="10" fill="#000" stroke="#444" stroke-width="1"/>
<rect x="295" y="52" width="17" height="2" fill="#ff0000"/>
<g font-family="DejaVu Sans Mono, IPAGothic, monospace" font-size="12.5" fill="#000"><text x="319.8" y="37.2" xml:space="preserve">DRホートン (D.R. Horton)のドルベースの株価</text><text x="319.8" y="55.8" xml:space="preserve">DRホートン (D.R. Horton)の円ベースの株価</text></g>
</svg></body></html>
